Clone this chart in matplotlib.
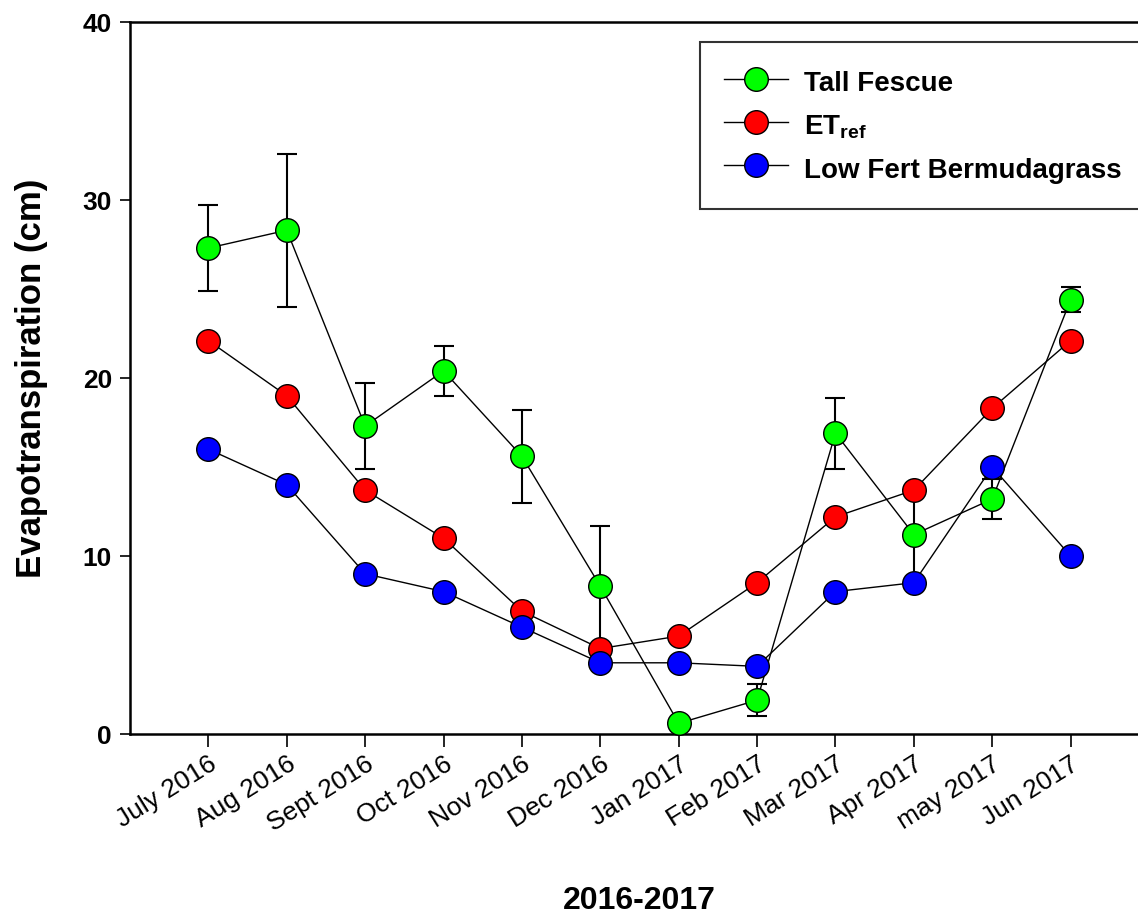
import matplotlib
matplotlib.use("Agg")
import matplotlib.pyplot as plt

months = ["July 2016", "Aug 2016", "Sept 2016", "Oct 2016", "Nov 2016", "Dec 2016",
          "Jan 2017", "Feb 2017", "Mar 2017", "Apr 2017", "may 2017", "Jun 2017"]

tall_fescue = [27.3, 28.3, 17.3, 20.4, 15.6, 8.3, 0.6, 1.9, 16.9, 11.2, 13.2, 24.4]
tall_fescue_err = [2.4, 4.3, 2.4, 1.4, 2.6, 3.4, 0.0, 0.9, 2.0, 2.6, 1.1, 0.7]
et_ref = [22.1, 19.0, 13.7, 11.0, 6.9, 4.8, 5.5, 8.5, 12.2, 13.7, 18.3, 22.1]
low_fert = [16.0, 14.0, 9.0, 8.0, 6.0, 4.0, 4.0, 3.8, 8.0, 8.5, 15.0, 10.0]

plt.rcParams["font.family"] = ["Liberation Sans", "DejaVu Sans"]
plt.rcParams["mathtext.fontset"] = "custom"
plt.rcParams["mathtext.rm"] = "Liberation Sans:bold"
plt.rcParams["mathtext.it"] = "Liberation Sans:bold"
plt.rcParams["mathtext.bf"] = "Liberation Sans:bold"

W, H = 1138, 916
fig = plt.figure(figsize=(W / 100, H / 100), dpi=100)
# axes box runs a little past the right edge, like the cropped original
left, right, top, bottom = 130, 1149, 22, 734
ax = fig.add_axes([left / W, 1 - bottom / H, (right - left) / W, (bottom - top) / H])

x = list(range(len(months)))
mk = dict(marker="o", markersize=17, markeredgecolor="black", markeredgewidth=1.0,
          color="black", linewidth=1.0, clip_on=False)

ax.errorbar(x, tall_fescue, yerr=tall_fescue_err, fmt="none", ecolor="black",
            elinewidth=1.5, capsize=7, capthick=1.5, zorder=2, clip_on=False)
ax.plot(x, tall_fescue, markerfacecolor="#00ff00", label="Tall Fescue", zorder=3, **mk)
ax.plot(x, et_ref, markerfacecolor="#ff0000", label=r"ET$_{\mathregular{ref}}$", zorder=4, **mk)
ax.plot(x, low_fert, markerfacecolor="#0000ff", label="Low Fert Bermudagrass", zorder=5, **mk)

ax.set_xlim(-1, 12)
ax.set_ylim(0, 40)
ax.set_yticks([0, 10, 20, 30, 40])
ax.set_xticks(x)
ax.set_xticklabels(months, rotation=32, ha="right", va="top", rotation_mode="anchor",
                   fontsize=19)
for lab in ax.get_yticklabels():
    lab.set_fontweight("bold")
    lab.set_fontsize(19)

ax.tick_params(axis="y", direction="out", length=7, width=1.2, pad=6)
ax.tick_params(axis="x", direction="out", length=9, width=1.2, pad=4)
for s in ax.spines.values():
    s.set_linewidth(1.8)

ax.set_ylabel("Evapotranspiration (cm)", fontsize=25, fontweight="bold", labelpad=25)
ax.set_xlabel("2016-2017", fontsize=23, fontweight="bold", labelpad=36)

leg = ax.legend(loc="upper left", bbox_to_anchor=((700 - left) / (right - left), (bottom - 42) / (bottom - top)),
                borderaxespad=0, frameon=True, fancybox=False, edgecolor="black",
                prop={"weight": "bold", "size": 20}, handlelength=2.3, handletextpad=0.55,
                handleheight=1.35, borderpad=0.88, labelspacing=0.43, markerscale=1.0)
leg.get_frame().set_linewidth(1.5)

fig.savefig("out.png", dpi=100)
